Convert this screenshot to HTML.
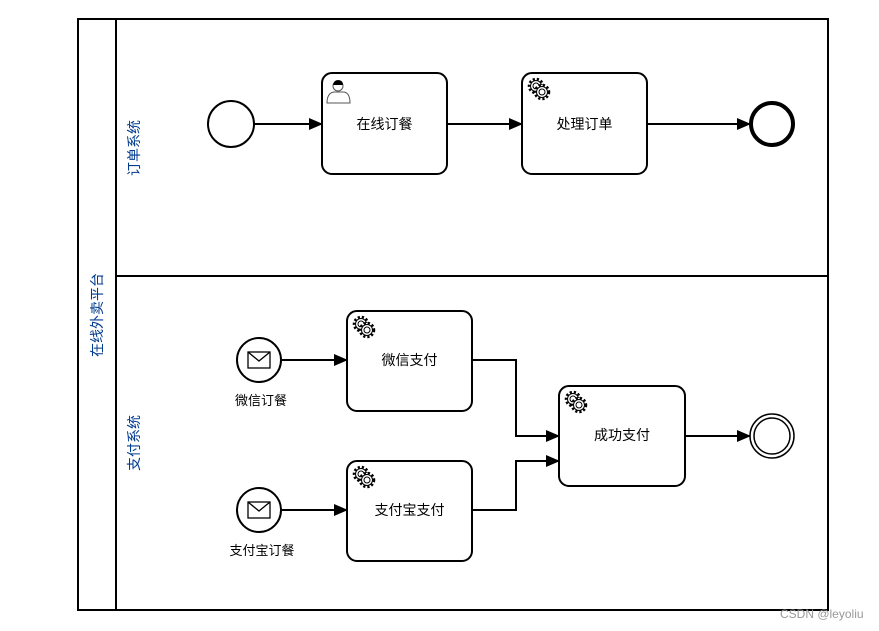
<!DOCTYPE html>
<html><head><meta charset="utf-8"><style>
html,body{margin:0;padding:0;background:#fff;}
svg{display:block;font-family:"Liberation Sans","Noto Sans CJK SC",sans-serif;}
</style></head><body>
<svg width="879" height="631" viewBox="0 0 879 631" xmlns="http://www.w3.org/2000/svg">
<defs>
<marker id="a" markerWidth="14" markerHeight="12" refX="13" refY="6" orient="auto" markerUnits="userSpaceOnUse">
<path d="M0,0 L14,6 L0,12 Z" fill="#000"/></marker>
<g id="gear">
<circle cx="0" cy="0" r="7" fill="#fff" stroke="#000" stroke-width="2.5" stroke-dasharray="2.2 2"/>
<circle cx="0" cy="0" r="5.5" fill="#fff" stroke="#000" stroke-width="1"/>
<circle cx="0" cy="0" r="3" fill="#fff" stroke="#000" stroke-width="1"/>
</g>
<g id="gears"><use href="#gear" x="-3" y="-3"/><use href="#gear" x="3" y="3"/></g>
</defs>
<rect width="879" height="631" fill="#fff"/>
<rect x="78" y="19" width="750" height="591" fill="none" stroke="#000" stroke-width="2"/>
<line x1="116" y1="19" x2="116" y2="610" stroke="#000" stroke-width="2"/>
<line x1="116" y1="276" x2="828" y2="276" stroke="#000" stroke-width="2"/>
<text transform="translate(102,315) rotate(-90)" text-anchor="middle" font-size="14" fill="#003b8f">在线外卖平台</text>
<text transform="translate(139,148) rotate(-90)" text-anchor="middle" font-size="14" fill="#003b8f">订单系统</text>
<text transform="translate(139,443) rotate(-90)" text-anchor="middle" font-size="14" fill="#003b8f">支付系统</text>
<circle cx="231" cy="124" r="23" fill="#fff" stroke="#000" stroke-width="2"/>
<line x1="254" y1="124" x2="322" y2="124" stroke="#000" stroke-width="2" marker-end="url(#a)"/>
<rect x="322" y="73" width="125" height="101" rx="10" fill="#fff" stroke="#000" stroke-width="2"/>
<g stroke="#555" stroke-width="1" fill="#fff">
<path d="M327,103 Q327,93 334,92 L344,92 Q350,93 350,103 Z"/>
<circle cx="338" cy="86" r="5" fill="#fff"/>
</g>
<path d="M333,85 Q334,80 338,80 Q343,80 343,85 Z" fill="#000"/>
<text x="384.5" y="129" text-anchor="middle" font-size="14">在线订餐</text>
<line x1="447" y1="124" x2="522" y2="124" stroke="#000" stroke-width="2" marker-end="url(#a)"/>
<rect x="522" y="73" width="125" height="101" rx="10" fill="#fff" stroke="#000" stroke-width="2"/>
<use href="#gears" x="539" y="89"/>
<text x="584.5" y="129" text-anchor="middle" font-size="14">处理订单</text>
<line x1="647" y1="124" x2="750" y2="124" stroke="#000" stroke-width="2" marker-end="url(#a)"/>
<circle cx="772" cy="124" r="21" fill="#fff" stroke="#000" stroke-width="4"/>
<circle cx="259" cy="360" r="22" fill="#fff" stroke="#000" stroke-width="2"/>
<rect x="248" y="352" width="22" height="16" fill="#fff" stroke="#000" stroke-width="1.3"/>
<path d="M248,352 L259,361 L270,352" fill="none" stroke="#000" stroke-width="1.3"/>
<text x="261" y="405" text-anchor="middle" font-size="13">微信订餐</text>
<line x1="281" y1="360" x2="347" y2="360" stroke="#000" stroke-width="2" marker-end="url(#a)"/>
<rect x="347" y="311" width="125" height="100" rx="10" fill="#fff" stroke="#000" stroke-width="2"/>
<use href="#gears" x="364" y="327"/>
<text x="409.5" y="365" text-anchor="middle" font-size="14">微信支付</text>
<circle cx="259" cy="510" r="22" fill="#fff" stroke="#000" stroke-width="2"/>
<rect x="248" y="502" width="22" height="16" fill="#fff" stroke="#000" stroke-width="1.3"/>
<path d="M248,502 L259,511 L270,502" fill="none" stroke="#000" stroke-width="1.3"/>
<text x="262" y="555" text-anchor="middle" font-size="13">支付宝订餐</text>
<line x1="281" y1="510" x2="347" y2="510" stroke="#000" stroke-width="2" marker-end="url(#a)"/>
<rect x="347" y="461" width="125" height="100" rx="10" fill="#fff" stroke="#000" stroke-width="2"/>
<use href="#gears" x="364" y="477"/>
<text x="409.5" y="515" text-anchor="middle" font-size="14">支付宝支付</text>
<polyline points="472,360 516,360 516,436 559,436" fill="none" stroke="#000" stroke-width="2" marker-end="url(#a)"/>
<polyline points="472,510 516,510 516,461 559,461" fill="none" stroke="#000" stroke-width="2" marker-end="url(#a)"/>
<rect x="559" y="386" width="126" height="100" rx="10" fill="#fff" stroke="#000" stroke-width="2"/>
<use href="#gears" x="576" y="402"/>
<text x="622" y="440" text-anchor="middle" font-size="14">成功支付</text>
<line x1="685" y1="436" x2="750" y2="436" stroke="#000" stroke-width="2" marker-end="url(#a)"/>
<circle cx="772" cy="436" r="22" fill="#fff" stroke="#000" stroke-width="1.5"/>
<circle cx="772" cy="436" r="18" fill="#fff" stroke="#000" stroke-width="1.5"/>
<text x="780" y="618" font-size="12" fill="#999">CSDN @leyoliu</text>
</svg>
</body></html>
